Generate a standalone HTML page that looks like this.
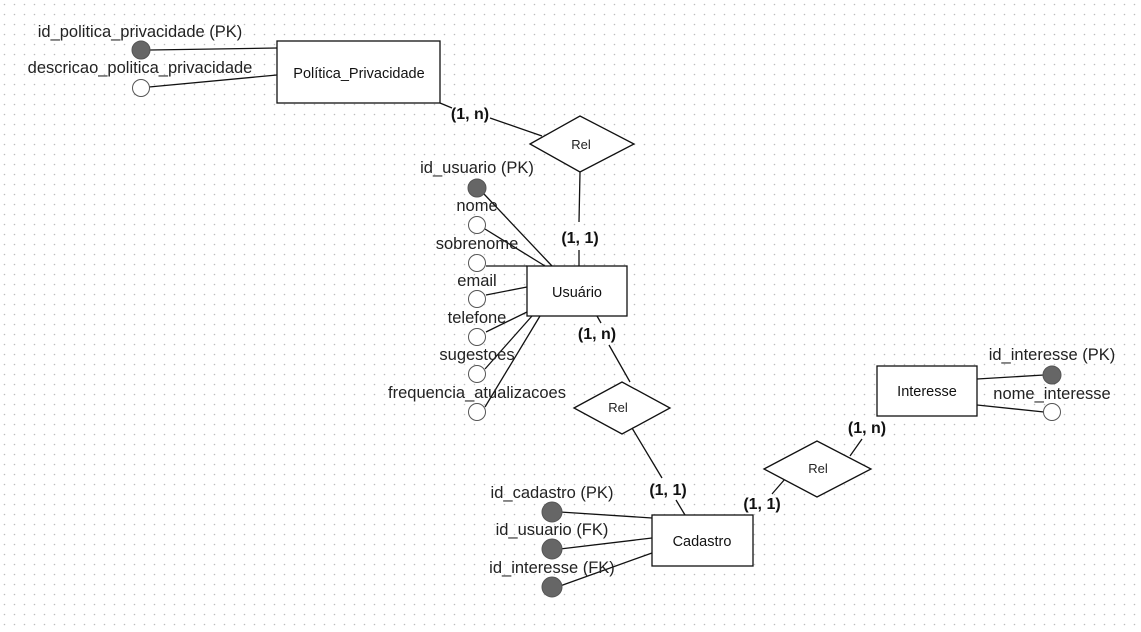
<!DOCTYPE html>
<html><head><meta charset="utf-8"><style>
html,body{margin:0;padding:0;background:#fff;}
svg{display:block;}
.a{font-family:"Liberation Sans",sans-serif;font-size:16.5px;fill:#222;text-anchor:middle;}
.e{font-family:"Liberation Sans",sans-serif;font-size:14.5px;fill:#111;text-anchor:middle;}
.r{font-family:"Liberation Sans",sans-serif;font-size:13px;fill:#222;text-anchor:middle;}
.c{font-family:"Liberation Sans",sans-serif;font-size:16px;font-weight:bold;fill:#111;text-anchor:middle;}
line{stroke:#111;stroke-width:1.3;}
.o{fill:#fff;stroke:#555;stroke-width:1;}
.f{fill:#666;stroke:#555;stroke-width:1;}
.b{fill:#fff;stroke:#111;stroke-width:1.3;}
</style></head><body>
<svg width="1141" height="632" xmlns="http://www.w3.org/2000/svg">
<defs><pattern id="d" width="10" height="10" patternUnits="userSpaceOnUse"><circle cx="4.5" cy="4.5" r="0.8" fill="#bdbdbd"/></pattern></defs>
<rect x="0" y="0" width="1141" height="632" fill="url(#d)"/>

<!-- Politica -->
<line x1="150" y1="50" x2="277" y2="48"/>
<line x1="149" y1="87" x2="277" y2="75"/>
<circle class="f" cx="141" cy="50" r="9"/>
<circle class="o" cx="141" cy="88" r="8.5"/>
<text class="a" x="140" y="37">id_politica_privacidade (PK)</text>
<text class="a" x="140" y="73">descricao_politica_privacidade</text>
<rect class="b" x="277" y="41" width="163" height="62"/>
<text class="e" x="359" y="78">Política_Privacidade</text>

<line x1="440" y1="103" x2="452" y2="108"/>
<text class="c" x="470" y="119">(1, n)</text>
<line x1="490" y1="118" x2="542" y2="136"/>
<polygon class="b" points="530,144 580,116 634,144 580,172"/>
<text class="r" x="581" y="149">Rel</text>
<line x1="580" y1="172" x2="579" y2="222"/>
<text class="c" x="580" y="243">(1, 1)</text>
<line x1="579" y1="250" x2="579" y2="266"/>

<!-- Usuario attributes -->
<line x1="484" y1="194" x2="552" y2="266"/>
<line x1="485" y1="229" x2="545" y2="266"/>
<line x1="486" y1="266" x2="527" y2="266"/>
<line x1="486" y1="295" x2="527" y2="287"/>
<line x1="486" y1="332" x2="527" y2="312"/>
<line x1="485" y1="369" x2="532" y2="316"/>
<line x1="485" y1="407" x2="540" y2="316"/>
<circle class="f" cx="477" cy="188" r="9"/>
<circle class="o" cx="477" cy="225" r="8.5"/>
<circle class="o" cx="477" cy="263" r="8.5"/>
<circle class="o" cx="477" cy="299" r="8.5"/>
<circle class="o" cx="477" cy="337" r="8.5"/>
<circle class="o" cx="477" cy="374" r="8.5"/>
<circle class="o" cx="477" cy="412" r="8.5"/>
<text class="a" x="477" y="173">id_usuario (PK)</text>
<text class="a" x="477" y="211">nome</text>
<text class="a" x="477" y="249">sobrenome</text>
<text class="a" x="477" y="286">email</text>
<text class="a" x="477" y="323">telefone</text>
<text class="a" x="477" y="360">sugestoes</text>
<text class="a" x="477" y="398">frequencia_atualizacoes</text>
<rect class="b" x="527" y="266" width="100" height="50"/>
<text class="e" x="577" y="297">Usuário</text>

<line x1="597" y1="316" x2="601" y2="323"/>
<text class="c" x="597" y="339">(1, n)</text>
<line x1="609" y1="345" x2="630" y2="382"/>
<polygon class="b" points="574,408 622,382 670,408 622,434"/>
<text class="r" x="618" y="412">Rel</text>
<line x1="632" y1="428" x2="662" y2="478"/>
<text class="c" x="668" y="495">(1, 1)</text>
<line x1="676" y1="500" x2="685" y2="515"/>

<!-- Cadastro -->
<line x1="560" y1="512" x2="652" y2="518"/>
<line x1="560" y1="549" x2="652" y2="538"/>
<line x1="560" y1="586" x2="652" y2="553"/>
<circle class="f" cx="552" cy="512" r="10"/>
<circle class="f" cx="552" cy="549" r="10"/>
<circle class="f" cx="552" cy="587" r="10"/>
<text class="a" x="552" y="498">id_cadastro (PK)</text>
<text class="a" x="552" y="535">id_usuario (FK)</text>
<text class="a" x="552" y="573">id_interesse (FK)</text>
<rect class="b" x="652" y="515" width="101" height="51"/>
<text class="e" x="702" y="546">Cadastro</text>

<text class="c" x="762" y="509">(1, 1)</text>
<line x1="772" y1="494" x2="785" y2="479"/>
<polygon class="b" points="764,469 817,441 871,469 817,497"/>
<text class="r" x="818" y="473">Rel</text>
<line x1="850" y1="456" x2="862" y2="439"/>
<text class="c" x="867" y="433">(1, n)</text>

<!-- Interesse -->
<line x1="977" y1="379" x2="1044" y2="375"/>
<line x1="977" y1="405" x2="1044" y2="412"/>
<circle class="f" cx="1052" cy="375" r="9"/>
<circle class="o" cx="1052" cy="412" r="8.5"/>
<text class="a" x="1052" y="360">id_interesse (PK)</text>
<text class="a" x="1052" y="399">nome_interesse</text>
<rect class="b" x="877" y="366" width="100" height="50"/>
<text class="e" x="927" y="396">Interesse</text>
</svg>
</body></html>
